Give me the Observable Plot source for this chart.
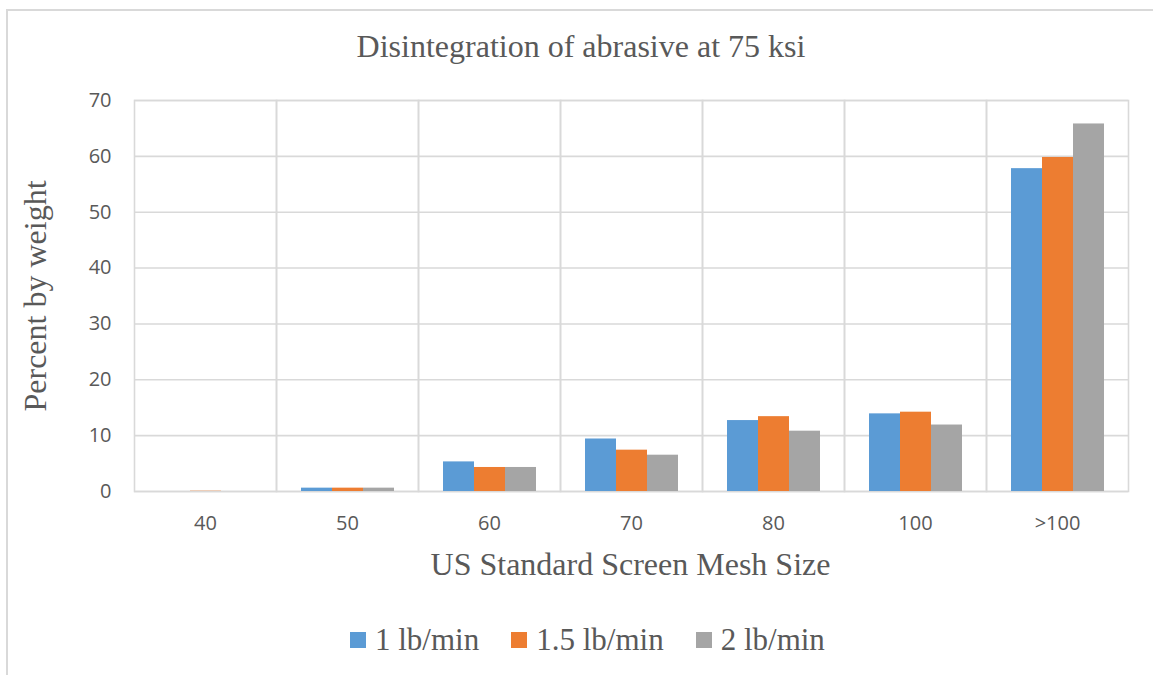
<!DOCTYPE html>
<html>
<head>
<meta charset="utf-8">
<script src="https://cdn.jsdelivr.net/npm/d3@7"></script>
<script src="https://cdn.jsdelivr.net/npm/@observablehq/plot@0.6"></script>
<style>
  html, body { margin: 0; padding: 0; background: #fff; }
  #wrap { position: relative; width: 1153px; height: 675px; overflow: hidden; background: #fff; }
  #wrap svg { position: absolute; left: 0; top: 0; }
  .serif { font-family: "Liberation Serif", "Times New Roman", serif; color: #595959; white-space: nowrap; }
  #border { position: absolute; left: 6px; top: 9px; width: 1300px; height: 800px;
            border-left: 2px solid #d9d9d9; border-top: 2px solid #d9d9d9; pointer-events: none; }
  #title { position: absolute; top: 30px; left: 581px; transform: translateX(-50%); font-size: 32px; line-height: 32px; }
  #xtitle { position: absolute; top: 548px; left: 630.5px; transform: translateX(-50%); font-size: 32px; line-height: 32px; }
  #ytitle { position: absolute; top: 295.5px; left: 35px; transform: translate(-50%, -50%) rotate(-90deg); font-size: 32px; line-height: 32px; }
  #legend { position: absolute; top: 624px; left: 350px; font-size: 31px; line-height: 31px; display: flex; gap: 32px; }
  #legend .sw { display: inline-block; width: 16px; height: 16px; margin-right: 9px; vertical-align: 2px; }
</style>
</head>
<body>
<div id="wrap"></div>
<script>
const categories = ["40", "50", "60", "70", "80", "100", ">100"];
const series = ["1 lb/min", "1.5 lb/min", "2 lb/min"];
const values1 = [0, 0.6, 5.3, 9.4, 12.7, 13.9, 57.8];
const values15 = [0.05, 0.6, 4.3, 7.4, 13.4, 14.2, 59.8];
const values2 = [0, 0.6, 4.3, 6.5, 10.8, 11.9, 65.8];
const colors = ["#5B9BD5", "#ED7D31", "#A5A5A5"];
const yTicks = [0, 10, 20, 30, 40, 50, 60, 70];
const titleText = "Disintegration of abrasive at 75 ksi";
const xTitle = "US Standard Screen Mesh Size";
const yTitle = "Percent by weight";

const seriesValues = [values1, values15, values2];
const data = categories.flatMap((c, i) =>
  series.map((s, j) => ({category: c, series: s, value: seriesValues[j][i]}))
);

const chart = Plot.plot({
  width: 1153,
  height: 675,
  marginTop: 100,
  marginBottom: 184,
  marginLeft: 132,
  marginRight: 24,
  style: {fontFamily: "'Open Sans', sans-serif", fontSize: "20px", color: "#595959", background: "transparent"},
  fx: {domain: categories, padding: 0, label: null, tickSize: 0, tickPadding: 24},
  x: {domain: series, paddingInner: 0, paddingOuter: 0.75, axis: null},
  y: {domain: [0, 70], ticks: yTicks, tickSize: 0, tickPadding: 23, label: null},
  color: {domain: series, range: colors},
  marks: [
    Plot.ruleY(yTicks, {stroke: "#d9d9d9", strokeWidth: 1.6}),
    Plot.frame({stroke: "#d9d9d9", strokeWidth: 1.6}),
    Plot.barY(data, {fx: "category", x: "series", y: "value", fill: "series"})
  ]
});

const wrap = document.getElementById("wrap");
wrap.appendChild(chart);

function addDiv(id, text, cls) {
  const d = document.createElement("div");
  d.id = id;
  d.className = cls;
  d.textContent = text;
  wrap.appendChild(d);
  return d;
}
addDiv("title", titleText, "serif");
addDiv("xtitle", xTitle, "serif");
addDiv("ytitle", yTitle, "serif");

const legend = document.createElement("div");
legend.id = "legend";
legend.className = "serif";
series.forEach((s, i) => {
  const item = document.createElement("span");
  const sw = document.createElement("span");
  sw.className = "sw";
  sw.style.background = colors[i];
  item.appendChild(sw);
  item.appendChild(document.createTextNode(s));
  legend.appendChild(item);
});
wrap.appendChild(legend);

const border = document.createElement("div");
border.id = "border";
wrap.appendChild(border);
</script>
</body>
</html>
